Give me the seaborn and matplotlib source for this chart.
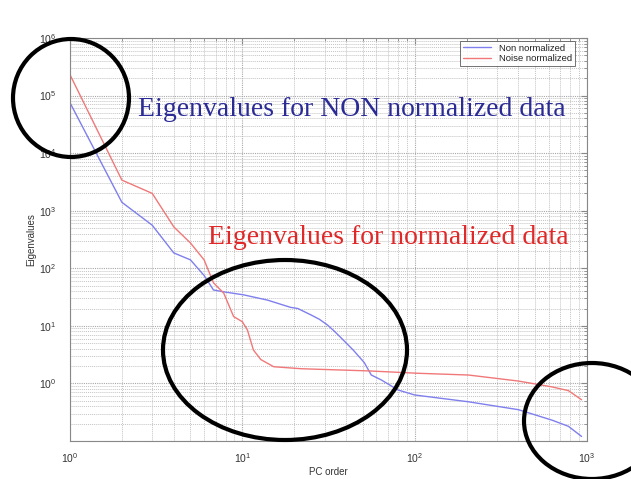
import numpy as np
import pandas as pd
import matplotlib
matplotlib.use("Agg")
import matplotlib.pyplot as plt
from matplotlib.patches import Ellipse
from matplotlib.ticker import LogLocator, FixedLocator, FixedFormatter, NullFormatter
import seaborn as sns

# ---- data ----
non_x = [1, 2, 3, 4, 5, 6, 6.8, 7.8, 10.2, 14, 19, 21, 25, 28, 31, 34, 37, 44, 51, 56, 64,
         80, 100, 205, 400, 627, 780, 930]
non_y = [7.5e4, 1400, 560, 185, 140, 75, 42, 39, 34.5, 28, 21, 20, 15.5, 13, 10.5, 8.2, 6.4,
         3.8, 2.3, 1.4, 1.15, 0.77, 0.63, 0.48, 0.35, 0.23, 0.18, 0.12]
noise_x = [1, 2, 3, 4, 5, 6, 6.8, 7.8, 8.9, 10, 10.7, 11.6, 12.8, 15.2, 22, 54, 105, 205,
           400, 627, 780, 930]
noise_y = [2.3e5, 3400, 2000, 525, 275, 140, 56, 37, 14.5, 11.8, 8.5, 3.8, 2.6, 1.95, 1.8,
           1.65, 1.5, 1.4, 1.1, 0.87, 0.75, 0.52]
series_names = ["Non normalized", "Noise normalized"]
x_ticks = [1, 10, 100, 1000]
x_tick_labels = [r"$10^{0}$", r"$10^{1}$", r"$10^{2}$", r"$10^{3}$"]
y_ticks = [1e-1, 1e0, 1e1, 1e2, 1e3, 1e4, 1e5, 1e6]
y_tick_labels = ["", r"$10^{0}$", r"$10^{1}$", r"$10^{2}$", r"$10^{3}$", r"$10^{4}$",
                 r"$10^{5}$", r"$10^{6}$"]
x_label = "PC order"
y_label = "Eigenvalues"
note_non = "Eigenvalues for NON normalized data"
note_norm = "Eigenvalues for normalized data"

df = pd.DataFrame({
    "x": non_x + noise_x,
    "y": non_y + noise_y,
    "series": [series_names[0]] * len(non_x) + [series_names[1]] * len(noise_x),
})

sns.set_style("white")
plt.rcParams["font.family"] = ["Liberation Sans", "DejaVu Sans"]
plt.rcParams["mathtext.fontset"] = "custom"
plt.rcParams["mathtext.rm"] = "Liberation Sans"
plt.rcParams["mathtext.it"] = "Liberation Sans"
plt.rcParams["mathtext.bf"] = "Liberation Sans:bold"

W, H = 631, 479
fig = plt.figure(figsize=(W / 100, H / 100), dpi=100)
ax = fig.add_axes([70 / W, 1 - 441 / H, 517 / W, 403 / H])

palette = {series_names[0]: "#7f7fee", series_names[1]: "#f07878"}
sns.lineplot(data=df, x="x", y="y", hue="series", palette=palette, sort=False,
             estimator=None, lw=1.0, ax=ax, legend=True)

ax.set_xscale("log")
ax.set_yscale("log")
ax.set_xlim(1, 1000)
ax.set_ylim(1e-1, 1e6)

ax.xaxis.set_major_locator(FixedLocator(x_ticks))
ax.xaxis.set_major_formatter(FixedFormatter(x_tick_labels))
ax.yaxis.set_major_locator(FixedLocator(y_ticks))
ax.yaxis.set_major_formatter(FixedFormatter(y_tick_labels))
ax.xaxis.set_minor_locator(LogLocator(base=10, subs=np.arange(2, 10), numticks=20))
ax.yaxis.set_minor_locator(LogLocator(base=10, subs=np.arange(2, 10), numticks=20))
ax.xaxis.set_minor_formatter(NullFormatter())
ax.yaxis.set_minor_formatter(NullFormatter())

ax.grid(True, which="major", color="#a8a8a8", ls=(0, (1, 1)), lw=0.8)
ax.grid(True, which="minor", color="#c4c4c4", ls=(0, (1, 1)), lw=0.7)
ax.set_axisbelow(True)

ax.tick_params(which="both", direction="in", top=True, right=True, colors="#888888",
               labelcolor="#333333", labelsize=7.5)
ax.tick_params(which="major", length=4)
ax.tick_params(which="minor", length=2)
ax.tick_params(axis="x", pad=7)
ax.tick_params(axis="y", pad=10)
for s in ax.spines.values():
    s.set_color("#888888")
    s.set_linewidth(0.8)

ax.set_xlabel(x_label, fontsize=7, color="#333333", labelpad=2)
ax.set_ylabel(y_label, fontsize=7, color="#333333", labelpad=2)

leg = ax.legend(loc="upper right", fontsize=6.8, frameon=True, fancybox=False,
                borderpad=0.3, handlelength=3.0, labelspacing=0.15,
                bbox_to_anchor=(0.98, 0.998), borderaxespad=0.2)
leg.get_frame().set_edgecolor("#333333")
leg.get_frame().set_linewidth(0.6)
for t in leg.get_texts():
    t.set_color("#222222")

# annotations
fig.text(138 / W, 1 - 110 / H, note_non, color="#2b2b96", fontsize=20,
         family="Liberation Serif", va="center", ha="left")
fig.text(208 / W, 1 - 238 / H, note_norm, color="#e02828", fontsize=20,
         family="Liberation Serif", va="center", ha="left")

for cx, cy, rx, ry in [(71, 98, 58, 59), (285, 350, 122, 90), (592, 421, 68, 58)]:
    fig.add_artist(Ellipse((cx / W, 1 - cy / H), 2 * rx / W, 2 * ry / H,
                           transform=fig.transFigure, fill=False, lw=3,
                           ec="black", clip_on=False))

fig.savefig("out.png", dpi=100)
